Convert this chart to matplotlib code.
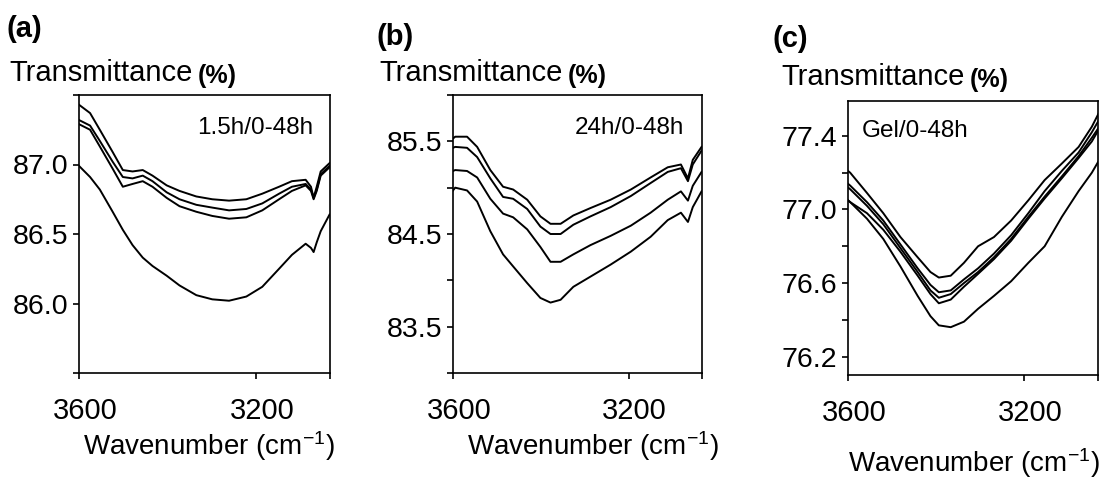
import matplotlib
matplotlib.use("Agg")
import matplotlib.pyplot as plt
import matplotlib.transforms as mtransforms

plt.rcParams["font.family"] = ["Liberation Sans", "DejaVu Sans"]
plt.rcParams["mathtext.fontset"] = "custom"
plt.rcParams["mathtext.rm"] = "Liberation Sans"
plt.rcParams["mathtext.default"] = "rm"

# ---------------- data ----------------
# (a) 1.5h/0-48h
wn_a = [3600, 3575, 3553, 3524, 3501, 3479, 3456, 3434, 3402, 3373, 3335,
        3299, 3261, 3222, 3186, 3148, 3119, 3088, 3076, 3070, 3063, 3054, 3034]
a1 = [87.43, 87.37, 87.25, 87.09, 86.96, 86.95, 86.96, 86.92, 86.85, 86.81, 86.77,
      86.75, 86.74, 86.75, 86.79, 86.84, 86.88, 86.89, 86.84, 86.76, 86.84, 86.95, 87.01]
a2 = [87.32, 87.28, 87.17, 87.02, 86.91, 86.90, 86.92, 86.88, 86.80, 86.75, 86.71,
      86.69, 86.67, 86.68, 86.72, 86.79, 86.84, 86.86, 86.82, 86.76, 86.82, 86.93, 86.99]
a3 = [87.29, 87.25, 87.13, 86.97, 86.84, 86.86, 86.88, 86.84, 86.76, 86.70, 86.66,
      86.63, 86.61, 86.62, 86.67, 86.75, 86.81, 86.85, 86.81, 86.75, 86.81, 86.92, 86.98]
a4 = [86.99, 86.91, 86.82, 86.66, 86.53, 86.42, 86.33, 86.27, 86.20, 86.13, 86.06,
      86.03, 86.02, 86.05, 86.12, 86.25, 86.35, 86.43, 86.40, 86.37, 86.44, 86.52, 86.64]

# (b) 24h/0-48h
wn_b = [3600, 3595, 3568, 3545, 3515, 3486, 3463, 3431, 3401, 3378, 3355,
        3326, 3287, 3241, 3195, 3150, 3111, 3081, 3065, 3054, 3034]
b1 = [85.53, 85.55, 85.55, 85.44, 85.19, 85.01, 84.98, 84.87, 84.69, 84.61, 84.61,
      84.70, 84.78, 84.87, 84.98, 85.11, 85.22, 85.25, 85.10, 85.30, 85.44]
b2 = [85.43, 85.44, 85.43, 85.33, 85.10, 84.90, 84.88, 84.77, 84.58, 84.50, 84.50,
      84.60, 84.69, 84.79, 84.91, 85.05, 85.17, 85.21, 85.07, 85.25, 85.40]
b3 = [85.18, 85.19, 85.18, 85.11, 84.88, 84.72, 84.68, 84.55, 84.36, 84.20, 84.20,
      84.28, 84.38, 84.48, 84.59, 84.73, 84.87, 84.96, 84.86, 85.02, 85.17]
b4 = [84.97, 85.00, 84.97, 84.85, 84.53, 84.28, 84.15, 83.97, 83.81, 83.76, 83.79,
      83.93, 84.04, 84.17, 84.31, 84.47, 84.65, 84.73, 84.63, 84.79, 84.96]

# (c) Gel/0-48h
wn_c = [3600, 3595, 3557, 3520, 3481, 3442, 3413, 3394, 3367, 3337, 3305,
        3269, 3230, 3191, 3154, 3115, 3077, 3047, 3030]
c1 = [77.21, 77.20, 77.09, 76.98, 76.85, 76.74, 76.66, 76.63, 76.64, 76.71, 76.80,
      76.85, 76.94, 77.05, 77.16, 77.25, 77.34, 77.45, 77.53]
c2 = [77.14, 77.13, 77.04, 76.94, 76.81, 76.68, 76.59, 76.55, 76.56, 76.62, 76.68,
      76.76, 76.86, 76.98, 77.10, 77.21, 77.31, 77.42, 77.49]
c3 = [77.12, 77.11, 77.02, 76.92, 76.79, 76.66, 76.56, 76.52, 76.54, 76.60, 76.66,
      76.74, 76.84, 76.96, 77.07, 77.18, 77.29, 77.39, 77.45]
c4 = [77.05, 77.04, 76.98, 76.89, 76.77, 76.64, 76.54, 76.49, 76.51, 76.58, 76.65,
      76.73, 76.83, 76.95, 77.06, 77.17, 77.28, 77.37, 77.44]
c5 = [77.05, 77.04, 76.95, 76.84, 76.69, 76.53, 76.42, 76.37, 76.36, 76.39, 76.46,
      76.53, 76.61, 76.71, 76.80, 76.96, 77.10, 77.20, 77.27]

# ---------------- figure ----------------
W, H = 1100, 483
fig = plt.figure(figsize=(11, 4.83), dpi=100)


def px(x, y):
    return x / W, 1 - y / H


def panel(l, t, r, b, wn, curves, ylim, major, minor, tag, tag_xy,
          note, note_xy, ylab_xy, xlab_xy):
    ax = fig.add_axes([l / W, 1 - b / H, (r - l) / W, (b - t) / H])
    for y in curves:
        ax.plot(wn, y, color="black", lw=1.4)
    ax.set_xlim(3600, 3033)
    ax.set_ylim(*ylim)
    ax.set_xticks([3600, 3200], ["3600", "3200"])
    ax.set_xticks([3033], minor=True)
    ax.set_yticks(major, [f"{v:.1f}" for v in major])
    ax.set_yticks(minor, minor=True)
    ax.tick_params(which="both", direction="out", length=4, width=1.2,
                   colors="black")
    ax.tick_params(axis="y", labelsize=20.5, pad=4)
    ax.tick_params(axis="x", labelsize=21, pad=13)
    off = mtransforms.ScaledTranslation(0.06, 0, fig.dpi_scale_trans)
    for lab in ax.get_xticklabels():
        lab.set_transform(lab.get_transform() + off)
    for sp in ax.spines.values():
        sp.set_linewidth(1.2)
    fig.text(*px(*tag_xy), tag, fontsize=21, fontweight="bold",
             ha="left", va="center")
    t1 = fig.text(*px(*ylab_xy), "Transmittance", fontsize=21,
                  ha="left", va="center")
    fig.canvas.draw()
    ax.annotate("(%)", xy=(1, 0), xycoords=t1, xytext=(4, -1),
                textcoords="offset points", fontsize=18, fontweight="bold",
                ha="left", va="bottom")
    fig.text(*px(*note_xy), note, fontsize=17.5, ha="left", va="center")
    fig.text(*px(*xlab_xy), "Wavenumber (cm$^{-1}$)", fontsize=20,
             ha="left", va="center")
    return ax


panel(79, 95, 330, 373, wn_a, [a1, a2, a3, a4], (85.5, 87.5),
      [86.0, 86.5, 87.0], [85.5, 87.5], "(a)", (6, 29),
      "1.5h/0-48h", (197, 128), (9, 73), (83, 446))
panel(453, 95, 702, 373, wn_b, [b1, b2, b3, b4], (83.0, 86.0),
      [83.5, 84.5, 85.5], [83.0, 84.0, 85.0, 86.0], "(b)", (376, 37),
      "24h/0-48h", (575, 128), (379, 73), (467, 446))
panel(848, 101, 1098, 375, wn_c, [c1, c2, c3, c4, c5], (76.1, 77.59),
      [76.2, 76.6, 77.0, 77.4], [76.4, 76.8, 77.2], "(c)", (772, 39),
      "Gel/0-48h", (862, 131), (781, 77), (848, 463))

fig.savefig("out.png", dpi=100)
